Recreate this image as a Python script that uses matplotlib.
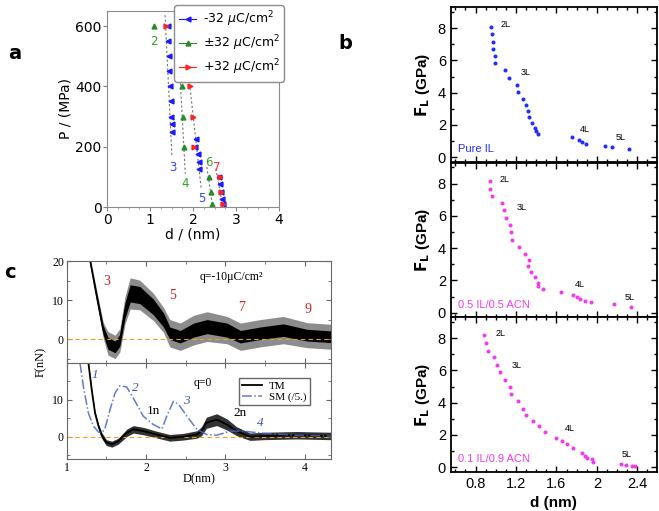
import numpy as np
import matplotlib
matplotlib.use('Agg')
import matplotlib.pyplot as plt
from matplotlib.lines import Line2D
from matplotlib.ticker import MultipleLocator

# ---- panel a: P vs d for three surface charges
d_neg = [1.41, 1.41, 1.43, 1.44, 1.46, 1.48, 1.49, 1.50, 1.50, 2.06, 2.05, 2.11, 2.13, 2.15, 2.60, 2.63, 2.66, 2.67, 2.70]
p_neg = [600, 550, 500, 450, 400, 350, 300, 275, 250, 225, 200, 175, 150, 125, 100, 75, 50, 25, 10]
d_pm = [1.09, 1.70, 1.74, 1.77, 1.80, 2.38, 2.41, 2.45]
p_pm = [600, 500, 400, 300, 200, 100, 50, 10]
d_pos = [1.36, 1.90, 1.93, 1.99, 2.02, 2.62, 2.65, 2.69]
p_pos = [600, 480, 400, 300, 200, 100, 50, 10]
guide_d = [(1.35, 1.51), (1.64, 1.82), (1.83, 2.19), (2.32, 2.45), (2.53, 2.69)]
guide_p = [(636, 166), (587, 111), (526, 61), (133, 9), (127, 5)]
layer_lbl = ['2', '3', '4', '5', '6', '7']
layer_d = [1.09, 1.52, 1.82, 2.21, 2.36, 2.56]
layer_p = [572, 152, 100, 50, 168, 152]
layer_col = ['#2ca02c', '#3344ff', '#2ca02c', '#3344ff', '#2ca02c', '#ff3333']

# ---- panel b: F_L vs d for three mixtures
d_il = [0.955, 0.961, 0.968, 0.971, 0.994, 0.991, 1.093, 1.132, 1.211, 1.218, 1.274, 1.297, 1.32, 1.33,
        1.36, 1.39, 1.40, 1.42, 1.755, 1.82, 1.85, 1.89, 2.08, 2.15, 2.32]
f_il = [8.09, 7.61, 7.16, 6.71, 6.28, 5.82, 5.39, 4.92, 4.49, 4.03, 3.60, 3.23, 2.86, 2.51,
        2.14, 1.81, 1.60, 1.44, 1.28, 1.09, 0.93, 0.80, 0.72, 0.64, 0.53]
d_mix5 = [0.94, 0.945, 0.958, 1.06, 1.083, 1.10, 1.14, 1.149, 1.165, 1.23, 1.29, 1.33, 1.32, 1.35, 1.386,
          1.416, 1.42, 1.465, 1.65, 1.76, 1.80, 1.83, 1.88, 1.94, 2.17, 2.34]
f_mix5 = [8.14, 7.67, 7.23, 6.80, 6.34, 5.87, 5.41, 4.97, 4.52, 4.08, 3.63, 3.27, 2.90, 2.55, 2.20,
          1.82, 1.66, 1.45, 1.28, 1.10, 0.95, 0.87, 0.75, 0.64, 0.56, 0.37]
d_mix1 = [0.886, 0.90, 0.92, 0.98, 1.017, 1.04, 1.087, 1.136, 1.152, 1.218, 1.268, 1.297, 1.37, 1.432, 1.488,
          1.60, 1.66, 1.70, 1.76, 1.857, 1.88, 1.905, 1.95, 1.965, 2.235, 2.285, 2.347, 2.38]
f_mix1 = [8.19, 7.69, 7.23, 6.80, 6.34, 5.88, 5.43, 4.99, 4.53, 4.10, 3.62, 3.24, 2.89, 2.54, 2.18,
          1.83, 1.62, 1.41, 1.21, 0.85, 0.69, 0.58, 0.48, 0.35, 0.19, 0.12, 0.08, 0.08]
b_names = ['Pure IL', '0.5 IL/0.5 ACN', '0.1 IL/0.9 ACN']
b_lbl_d = [(1.05, 1.25, 1.83, 2.19), (1.04, 1.21, 1.78, 2.27), (1.0, 1.16, 1.68, 2.25)]
b_lbl_f = [(8.2, 5.25, 1.7, 1.2), (8.25, 6.5, 1.72, 0.95), (8.3, 6.3, 2.37, 0.8)]

# ---- panel c: force profiles
D_q10 = [1.294, 1.378, 1.46, 1.52, 1.61, 1.67, 1.735, 1.80, 1.92, 2.09, 2.22, 2.30, 2.43, 2.60, 2.77,
         3.02, 3.19, 3.44, 3.73, 4.03, 4.33]
F_q10 = [20, 10.9, 2.3, -1.1, -2.0, -0.3, 7.4, 11.7, 11.3, 8.3, 4.9, 1.5, 0.6, 2.3, 3.2, 2.3, 0.6, 1.5,
         2.3, 1.0, 0.6]
spread_in = [0.8, 1.0, 1.2, 1.5, 1.5, 1.5, 2.0, 2.2, 2.2, 2.0, 1.8, 1.6, 1.6, 1.8, 1.8, 1.8, 1.6, 1.6, 1.6, 1.5, 1.5]
spread_out = [1.2, 1.6, 2.0, 3.0, 3.0, 3.0, 3.5, 4.0, 3.8, 3.5, 3.2, 3.5, 3.5, 3.8, 3.8, 3.5, 3.5, 3.5, 3.5, 3.2, 3.2]
D_tm = [1.273, 1.315, 1.357, 1.40, 1.44, 1.50, 1.57, 1.65, 1.76, 1.84, 1.97, 2.13, 2.30, 2.47, 2.64, 2.70,
        2.76, 2.89, 3.02, 3.14, 3.31, 3.48, 3.90, 4.33]
F_tm = [20, 12.7, 6.4, 2.9, 0.4, -1.6, -2.0, -1.2, 1.1, 2.0, 1.5, 0.6, -0.3, 0.0, 0.6, 1.5, 3.75, 4.6, 3.3,
        1.5, 0.0, 0.2, 0.4, 0.2]
tm_spread = [0.3, 0.4, 0.5, 0.6, 0.8, 0.8, 0.8, 0.8, 1.0, 1.0, 1.0, 0.9, 0.9, 0.9, 1.0, 1.2, 1.5, 1.6, 1.5,
             1.2, 1.0, 1.0, 1.0, 1.0]
D_sm = [1.168, 1.21, 1.273, 1.336, 1.40, 1.44, 1.48, 1.546, 1.61, 1.67, 1.756, 1.84, 1.966, 2.09, 2.20,
        2.26, 2.345, 2.41, 2.53, 2.64, 2.76, 2.89, 3.06, 3.23, 3.48, 3.90, 4.33]
F_sm = [19.8, 13.6, 6.4, 2.9, 1.25, 1.1, 2.0, 7.3, 11.8, 13.75, 13.4, 10.4, 5.5, 3.3, 2.1, 5.5, 9.55, 8.7,
        5.1, 2.0, 0.6, 0.4, 1.5, 1.5, 0.9, 0.4, 0.2]

fig = plt.figure(figsize=(6.59, 5.11), dpi=100)

# ================= panel a
ax = fig.add_axes([0.1624, 0.5949, 0.261, 0.3836])
for (d0, d1), (p0, p1) in zip(guide_d, guide_p):
    ax.plot([d0, d1], [p0, p1], ls=(0, (2, 2)), color='0.45', lw=0.8)
ax.plot(d_neg, p_neg, ls='none', marker='<', ms=3.5, color='#1a1aff')
ax.plot(d_pm, p_pm, ls='none', marker='^', ms=3.5, color='#2a8a2a')
ax.plot(d_pos, p_pos, ls='none', marker='>', ms=3.5, color='#ff2222')
for t, x, y, c in zip(layer_lbl, layer_d, layer_p, layer_col):
    ax.text(x, y, t, color=c, fontsize=8.5, ha='center', va='top')
ax.set_xlim(0, 4)
ax.set_ylim(0, 650)
ax.set_xticks([0, 1, 2, 3, 4])
ax.set_yticks([0, 200, 400, 600])
ax.xaxis.set_minor_locator(MultipleLocator(0.25))
ax.tick_params(labelsize=10, length=3, color='0.5', pad=1)
ax.tick_params(which='minor', length=1.5, color='0.6')
for s in ax.spines.values():
    s.set_color('0.55')
ax.set_xlabel('d / (nm)', fontsize=10, labelpad=1)
ax.set_ylabel('P / (MPa)', fontsize=10, labelpad=2)
handles = [Line2D([], [], color='#1a1aff', marker='<', ms=3.5, lw=0.8),
           Line2D([], [], color='#2a8a2a', marker='^', ms=3.5, lw=0.8),
           Line2D([], [], color='#ff2222', marker='>', ms=3.5, lw=0.8)]
ax.legend(handles, [r'-32 $\mu$C/cm$^2$', r'$\pm$32 $\mu$C/cm$^2$', r'+32 $\mu$C/cm$^2$'],
          loc='upper right', bbox_to_anchor=(1.065, 1.06), fontsize=9, handlelength=1.4,
          handletextpad=0.5, borderpad=0.35, labelspacing=0.35, framealpha=1,
          edgecolor='0.55', fancybox=True)
fig.text(0.012, 0.885, 'a', fontsize=14, fontweight='bold')

# ================= panel b
b_x = [d_il, d_mix5, d_mix1]
b_y = [f_il, f_mix5, f_mix1]
b_col = ['#1f2eff', '#f03cf0', '#f03cf0']
b_bottoms = [0.6830, 0.3787, 0.0763]
for i in range(3):
    bx = fig.add_axes([0.684, b_bottoms[i], 0.313, 0.3030])
    bx.plot(b_x[i], b_y[i], ls='none', marker='o', ms=2.9, color=b_col[i], mew=0)
    for t, x, y in zip(['2L', '3L', '4L', '5L'], b_lbl_d[i], b_lbl_f[i]):
        bx.text(x, y, t, fontsize=6.5, family='Liberation Sans', ha='left', va='center')
    bx.text(0.63, 0.5, b_names[i], color=b_col[i], fontsize=8, family='Liberation Sans', va='center')
    bx.set_xlim(0.555, 2.595)
    bx.set_ylim(-0.3, 9.3)
    bx.set_xticks([0.8, 1.2, 1.6, 2.0, 2.4])
    bx.set_yticks([0, 2, 4, 6, 8])
    bx.xaxis.set_minor_locator(MultipleLocator(0.1))
    bx.yaxis.set_minor_locator(MultipleLocator(1))
    bx.tick_params(which='both', direction='in', top=True, right=True, width=1)
    bx.tick_params(which='major', length=4)
    bx.tick_params(which='minor', length=2)
    for s in bx.spines.values():
        s.set_linewidth(1.3)
    for lab in bx.get_yticklabels() + bx.get_xticklabels():
        lab.set_family('Liberation Sans')
        lab.set_fontsize(10.5)
    bx.set_ylabel(r'$\mathbf{F_L}$ (GPa)', fontsize=11, fontweight='bold', family='Liberation Sans')
    if i < 2:
        bx.set_xticklabels([])
    else:
        bx.set_xticklabels(['0.8', '1.2', '1.6', '2', '2.4'])
        bx.set_xlabel('d (nm)', fontsize=11, fontweight='bold', family='Liberation Sans')
fig.text(0.513, 0.905, 'b', fontsize=14, fontweight='bold')

# ================= panel c
serif = 'Liberation Serif'
cx1 = fig.add_axes([0.1012, 0.2906, 0.401, 0.1986])
cx2 = fig.add_axes([0.1012, 0.1018, 0.401, 0.1888])

Dq = np.array(D_q10)
Fq = np.array(F_q10)
si = np.array(spread_in)
so = np.array(spread_out)
cx1.axhline(0, color='#e8a020', ls=(0, (4, 3)), lw=0.8)
cx1.fill_between(Dq, Fq - so, Fq + so, color='0.55', lw=0)
cx1.fill_between(Dq, Fq - si, Fq + si, color='k', lw=0)
cx1.plot(Dq, Fq, color='k', lw=1)
cx1.text(3.08, 15.9, 'q=-10μC/cm²', fontsize=8.5, family=serif, ha='center', va='center')
for t, x, y in zip(['3', '5', '7', '9'], [1.51, 2.34, 3.2, 4.04], [14.7, 11.2, 8.0, 7.5]):
    cx1.text(x, y, t, color='#d42020', fontsize=10, family=serif, ha='center', va='center')

Dt = np.array(D_tm)
Ft = np.array(F_tm)
st = np.array(tm_spread)
cx2.axhline(0, color='#e8a020', ls=(0, (4, 3)), lw=0.8)
cx2.fill_between(Dt, Ft - st, Ft + st, color='0.2', lw=0)
cx2.plot(Dt, Ft, color='k', lw=1.3, label='TM')
cx2.plot(D_sm, F_sm, color='#4a63c8', lw=1.1, ls='-.', label='SM (/5.)', alpha=0.85)
cx2.text(2.72, 14.6, 'q=0', fontsize=8.5, family=serif, ha='center', va='center')
for t, x, y in zip(['1', '2', '3', '4'], [1.35, 1.87, 2.51, 3.44], [16.7, 13.1, 9.55, 3.75]):
    cx2.text(x, y, t, color='#3a50b0', fontsize=9.5, family=serif, style='italic', ha='center', va='center')
cx2.text(2.09, 6.9, '1n', fontsize=9.5, family=serif, ha='center', va='center')
cx2.text(3.18, 6.4, '2n', fontsize=9.5, family=serif, ha='center', va='center')
cx2.legend(loc='upper right', bbox_to_anchor=(0.94, 0.90), prop={'family': serif, 'size': 8},
           fancybox=False, edgecolor='0.4', framealpha=1, handlelength=1.8, borderpad=0.3,
           labelspacing=0.1, handletextpad=0.6)

for cx in (cx1, cx2):
    cx.set_xlim(1, 4.33)
    cx.set_ylim(-6, 20)
    cx.xaxis.set_major_locator(MultipleLocator(1))
    cx.xaxis.set_minor_locator(MultipleLocator(0.5))
    cx.yaxis.set_major_locator(MultipleLocator(10))
    cx.yaxis.set_minor_locator(MultipleLocator(5))
    cx.tick_params(which='both', direction='in', top=True, right=True, color='0.4', pad=2)
    cx.tick_params(which='major', length=3.5)
    cx.tick_params(which='minor', length=2)
    for s in cx.spines.values():
        s.set_color('0.4')
    for lab in cx.get_yticklabels() + cx.get_xticklabels():
        lab.set_family(serif)
        lab.set_fontsize(8.5)
cx1.set_xticklabels([])
cx2.set_yticks([0, 10])
cx2.set_xlabel('D(nm)', fontsize=9, family=serif, labelpad=0)
fig.text(0.062, 0.292, 'F(nN)', fontsize=9, family=serif, rotation=90, va='center', ha='center')
fig.text(0.006, 0.455, 'c', fontsize=14, fontweight='bold')

fig.savefig('out.png', dpi=100)
